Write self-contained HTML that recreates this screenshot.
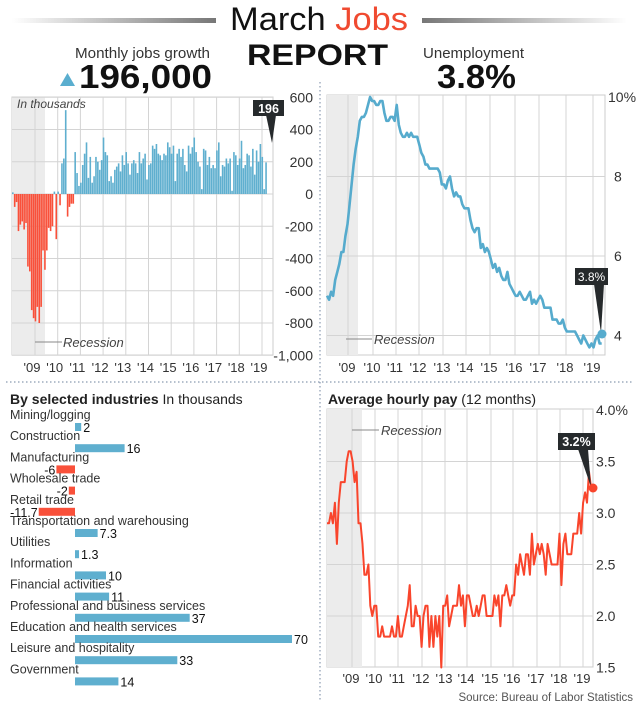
<!DOCTYPE html>
<html><head><meta charset="utf-8"><style>
html,body{margin:0;padding:0;background:#fff}
svg{display:block;font-family:"Liberation Sans",sans-serif}
</style></head><body>
<svg id="s" width="640" height="708" viewBox="0 0 640 708" xmlns="http://www.w3.org/2000/svg">
<defs>
<linearGradient id="gl" x1="0" x2="1"><stop offset="0" stop-color="#fff"/><stop offset="1" stop-color="#777"/></linearGradient>
<linearGradient id="gr" x1="0" x2="1"><stop offset="0" stop-color="#777"/><stop offset="1" stop-color="#fff"/></linearGradient>
</defs>
<rect x="12" y="18" width="204" height="5" fill="url(#gl)"/>
<rect x="422" y="18" width="205" height="5" fill="url(#gr)"/>
<text x="230" y="30" font-size="32" fill="#111" textLength="178" lengthAdjust="spacingAndGlyphs">March <tspan fill="#f04a30">Jobs</tspan></text>
<text x="247" y="65" font-size="30" font-weight="bold" fill="#111" textLength="141" lengthAdjust="spacingAndGlyphs">REPORT</text>
<text x="75" y="58" font-size="15" fill="#333" textLength="135" lengthAdjust="spacingAndGlyphs">Monthly jobs growth</text>
<polygon points="60,86 67.5,73 75,86" fill="#5aaecf"/>
<text x="79" y="88" font-size="33" font-weight="bold" fill="#111" textLength="133" lengthAdjust="spacingAndGlyphs">196,000</text>
<text x="423" y="58" font-size="15" fill="#333" textLength="101" lengthAdjust="spacingAndGlyphs">Unemployment</text>
<text x="437" y="88" font-size="33" font-weight="bold" fill="#111" textLength="79" lengthAdjust="spacingAndGlyphs">3.8%</text>
<line x1="320" y1="82" x2="320" y2="702" stroke="#8a9ab0" stroke-width="1.2" stroke-dasharray="1.5,2.5"/>
<line x1="6" y1="382" x2="634" y2="382" stroke="#8a9ab0" stroke-width="1.2" stroke-dasharray="1.5,2.5"/>
<g id="g"></g>
<text x="633" y="701" text-anchor="end" font-size="11.5" fill="#555">Source: Bureau of Labor Statistics</text>
</svg>
<script>
const g=document.getElementById('g');let h='';
const B='#5fafcf',R='#f9503a',GR='#d4d4d4';
const jx0=12,jx1=273,jy=v=>194-v*0.16125;
h+=`<rect x="${jx0}" y="97" width="${jx1-jx0}" height="258" fill="#fff" stroke="#ccc"/>`;
h+=`<rect x="${jx0}" y="97" width="33" height="258" fill="#ececec"/>`;
for(let v=600;v>=-1000;v-=200){const y=jy(v);h+=`<line x1="${jx0}" x2="${jx1}" y1="${y}" y2="${y}" stroke="${GR}"/>`;
h+=`<text x="313" y="${y+5}" text-anchor="end" font-size="14" fill="#333">${v==-1000?'-1,000':v}</text>`;}
const yrs=["'09","'10","'11","'12","'13","'14","'15","'16","'17","'18","'19"];
for(let k=0;k<11;k++){const x=35+k*22.7;h+=`<line x1="${x}" x2="${x}" y1="97" y2="355" stroke="${GR}"/>`;
h+=`<text x="${x-3}" y="372" text-anchor="middle" font-size="13" fill="#333">${yrs[k]}</text>`;}
const jobs=[10,-80,-50,-230,-190,-170,-220,-180,-450,-480,-720,-770,
-790,-700,-800,-700,-350,-470,-350,-210,-230,-200,15,-280,
15,-70,190,220,520,-140,-80,-60,-60,260,130,50,
70,180,250,320,100,230,70,110,230,200,150,210,
350,260,240,80,110,70,150,170,190,140,240,180,
260,190,120,190,210,190,130,260,190,220,250,90,
180,190,300,280,310,250,240,210,250,240,320,290,
250,300,80,250,280,230,280,180,140,300,250,290,
350,260,200,170,30,280,270,180,230,160,180,160,
270,320,110,180,170,220,190,220,20,260,240,180,
220,330,160,180,250,240,170,280,120,270,200,310,
230,30,196];
jobs.forEach((v,i)=>{const x=jx0+i*1.89;const y=Math.min(jy(v),194),hh=Math.abs(jy(v)-194);
h+=`<rect x="${x}" y="${y}" width="1.6" height="${hh}" fill="${v<0?R:B}"/>`;});
h+=`<text x="17" y="108" font-size="12" font-style="italic" fill="#444">In thousands</text>`;
h+=`<line x1="35" x2="62" y1="342" y2="342" stroke="#888"/><text x="63" y="347" font-size="13" font-style="italic" fill="#444">Recession</text>`;
h+=`<rect x="253" y="100" width="31" height="16" fill="#262a2c"/><polygon points="266,115 276,115 272,143" fill="#262a2c"/><text x="268.5" y="113" text-anchor="middle" font-size="12.5" font-weight="bold" fill="#fff">196</text>`;
const ux0=327,ux1=605,uy=v=>97+(10-v)*39.75;
h+=`<rect x="${ux0}" y="95" width="${ux1-ux0}" height="260" fill="#fff" stroke="#ccc"/>`;
h+=`<rect x="${ux0}" y="95" width="31" height="260" fill="#ececec"/>`;
[8,6,4].forEach(v=>{h+=`<line x1="${ux0}" x2="${ux1}" y1="${uy(v)}" y2="${uy(v)}" stroke="${GR}"/>`;
h+=`<text x="614" y="${uy(v)+5}" font-size="14" fill="#333">${v}</text>`;});
h+=`<text x="608" y="102" font-size="14" fill="#333">10%</text>`;
const ux=[348,373,396,419,443,466,490,515,539,566,593];
for(let k=0;k<11;k++){h+=`<line x1="${ux[k]}" x2="${ux[k]}" y1="95" y2="355" stroke="${GR}"/>`;
h+=`<text x="${ux[k]-1}" y="372" text-anchor="middle" font-size="13" fill="#333">${yrs[k]}</text>`;}
const un=[5.0,4.9,5.1,5.0,5.4,5.6,5.8,6.1,6.1,6.5,6.8,7.3,7.8,8.3,8.7,9.0,9.4,9.5,9.5,9.6,9.8,10.0,9.9,9.9,
9.8,9.8,9.9,9.9,9.6,9.4,9.4,9.5,9.5,9.4,9.8,9.3,9.1,9.0,9.0,9.1,9.0,9.1,9.0,9.0,9.0,8.8,8.6,8.5,
8.3,8.3,8.2,8.2,8.2,8.2,8.2,8.1,7.8,7.8,7.7,7.9,8.0,7.7,7.5,7.6,7.5,7.5,7.3,7.2,7.2,7.2,6.9,6.7,
6.6,6.7,6.7,6.2,6.3,6.1,6.2,6.1,5.9,5.7,5.8,5.6,5.7,5.5,5.4,5.4,5.6,5.3,5.2,5.1,5.0,5.0,5.1,5.0,
4.9,4.9,5.0,5.1,4.8,4.9,4.8,4.9,5.0,4.9,4.7,4.7,4.7,4.7,4.4,4.4,4.4,4.3,4.3,4.4,4.2,4.1,4.1,4.1,
4.1,4.1,4.0,3.9,3.8,4.0,3.9,3.8,3.7,3.8,3.7,3.9,4.0,3.8,3.8];
h+=`<polyline fill="none" stroke="#56abcd" stroke-width="2.6" stroke-linejoin="round" points="${un.map((v,i)=>(ux0+i*2.05).toFixed(1)+','+uy(v).toFixed(1)).join(' ')}"/>`;
h+=`<line x1="346" x2="372" y1="339" y2="339" stroke="#888"/><text x="374" y="344" font-size="13" font-style="italic" fill="#444">Recession</text>`;
h+=`<rect x="575" y="268" width="33" height="17" fill="#262a2c"/><polygon points="594,284 604,284 601,333" fill="#262a2c"/><text x="591.5" y="281" text-anchor="middle" font-size="12" fill="#fff">3.8%</text>`;
h+=`<circle cx="602" cy="334" r="4.5" fill="#56abcd"/>`;
const px0=327,px1=593,py=v=>410+(4-v)*103;
h+=`<text x="328" y="404" font-size="14" fill="#222"><tspan font-weight="bold">Average hourly pay</tspan> (12 months)</text>`;
h+=`<rect x="${px0}" y="409" width="${px1-px0}" height="258" fill="#fff" stroke="#ccc"/>`;
h+=`<rect x="${px0}" y="409" width="35" height="258" fill="#ececec"/>`;
[3.5,3.0,2.5,2.0].forEach(v=>{h+=`<line x1="${px0}" x2="${px1}" y1="${py(v)}" y2="${py(v)}" stroke="${GR}"/>`;});
[['4.0%',4],['3.5',3.5],['3.0',3],['2.5',2.5],['2.0',2],['1.5',1.5]].forEach(([t,v])=>{h+=`<text x="596" y="${py(v)+5}" font-size="14" fill="#333">${t}</text>`;});
const px=[352,375,398,422,445,467,491,513,537,560,583];
for(let k=0;k<11;k++){h+=`<line x1="${px[k]}" x2="${px[k]}" y1="409" y2="667" stroke="${GR}"/>`;
h+=`<text x="${px[k]-1}" y="683" text-anchor="middle" font-size="13" fill="#333">${yrs[k]}</text>`;}
const pay=[2.9,2.9,3.0,2.9,3.1,2.7,3.1,3.3,3.3,3.3,3.5,3.6,3.6,3.5,3.3,3.4,2.9,2.9,2.7,2.4,2.4,2.5,2.1,2.0,
2.1,2.1,1.8,1.8,1.9,1.8,1.8,1.8,1.8,1.9,1.8,1.8,2.0,1.8,1.8,1.9,2.0,2.1,2.3,1.9,1.9,2.1,2.0,2.0,
1.7,2.0,2.1,2.1,1.7,2.0,1.7,2.0,1.8,2.0,1.5,2.1,2.1,2.2,1.9,2.0,2.1,2.1,2.1,2.3,2.1,2.2,1.9,2.2,
2.2,2.1,2.0,2.0,2.1,2.0,2.1,2.2,2.2,2.0,2.0,2.0,2.0,2.2,2.1,2.2,1.9,2.2,2.2,2.3,2.2,2.1,2.2,2.2,
2.5,2.4,2.6,2.5,2.4,2.6,2.6,2.4,2.8,2.5,2.6,2.7,2.6,2.7,2.6,2.4,2.7,2.6,2.5,2.5,2.5,2.5,2.8,2.3,
2.7,2.8,2.6,2.6,2.6,2.8,2.8,2.8,3.0,2.8,3.1,3.2,3.1,3.4,3.25];
h+=`<polyline fill="none" stroke="#f9452c" stroke-width="2" stroke-linejoin="round" points="${pay.map((v,i)=>(px0+i*1.97).toFixed(1)+','+py(v).toFixed(1)).join(' ')}"/>`;
h+=`<line x1="352" x2="379" y1="430" y2="430" stroke="#888"/><text x="381" y="435" font-size="13" font-style="italic" fill="#444">Recession</text>`;
h+=`<rect x="558" y="433" width="37" height="17" fill="#262a2c"/><polygon points="578,449 588,449 591,487" fill="#262a2c"/><text x="576.5" y="446" text-anchor="middle" font-size="12.5" font-weight="bold" fill="#fff">3.2%</text>`;
h+=`<circle cx="593" cy="488" r="4.5" fill="#f9452c"/>`;
h+=`<text x="10" y="404" font-size="14" fill="#222"><tspan font-weight="bold">By selected industries</tspan>  In thousands</text>`;
const ind=[['Mining/logging',2],['Construction',16],['Manufacturing',-6],['Wholesale trade',-2],['Retail trade',-11.7],['Transportation and warehousing',7.3],['Utilities',1.3],['Information',10],['Financial activities',11],['Professional and business services',37],['Education and health services',70],['Leisure and hospitality',33],['Government',14]];
ind.forEach(([n,v],i)=>{const ly=415+i*21.2,by=423+i*21.2,w=Math.abs(v)*3.1,x0=75;
h+=`<text x="10" y="${ly+4}" font-size="12.5" fill="#333">${n}</text>`;
if(v>=0){h+=`<rect x="${x0}" y="${by}" width="${w}" height="8" fill="${B}"/><text x="${x0+w+2}" y="${by+9}" font-size="12.5" fill="#111">${v}</text>`;}
else{h+=`<rect x="${x0-w}" y="${by}" width="${w}" height="8" fill="${R}"/><text x="${x0-w-1}" y="${by+9}" text-anchor="end" font-size="12.5" fill="#111">${v}</text>`;}
});
g.innerHTML=h;
</script>
</body></html>
